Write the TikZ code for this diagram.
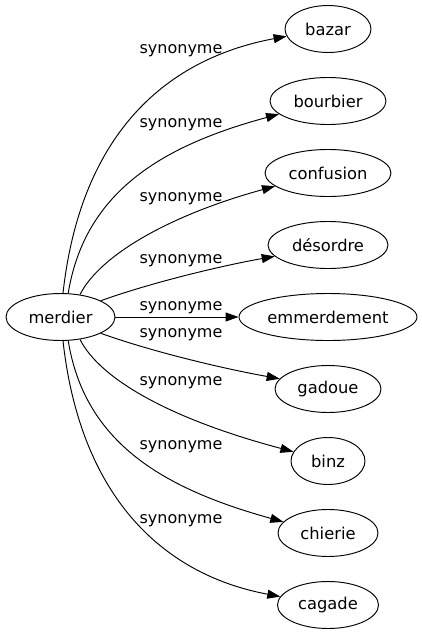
\documentclass[tikz,border=0pt]{standalone}
\usepackage{fontspec}
\setmainfont{DejaVu Sans}
\usetikzlibrary{arrows.meta,shapes.geometric}
\begin{document}
\begin{tikzpicture}[x=1pt,y=-1pt,
  term/.style={ellipse,draw,line width=0.95pt,minimum height=47pt,inner sep=0pt,
    font=\fontsize{16.3pt}{19pt}\selectfont},
  rel/.style={line width=0.95pt,-{Triangle[length=13pt,width=9pt]}},
  lbl/.style={anchor=base,inner sep=0pt,font=\fontsize{16pt}{19pt}\selectfont}]
\useasboundingbox (0,0) rectangle (422,635);
% nodes
\node[term,minimum width=109pt] (merdier) at (60.5,317) {merdier};
\node[term,minimum width=86pt]  (bazar) at (328,29) {bazar};
\node[term,minimum width=116pt] (bourbier) at (328,101) {bourbier};
\node[term,minimum width=126pt] (confusion) at (328,173) {confusion};
\node[term,minimum width=120pt] (desordre) at (328,245) {désordre};
\node[term,minimum width=178pt] (emmerdement) at (328,317) {emmerdement};
\node[term,minimum width=106pt] (gadoue) at (328,389) {gadoue};
\node[term,minimum width=74pt]  (binz) at (328,461) {binz};
\node[term,minimum width=100pt] (chierie) at (328,533) {chierie};
\node[term,minimum width=101pt] (cagade) at (328,605) {cagade};
% edges
\draw[rel] (merdier.84) .. controls (80,140) and (160,60) .. (bazar.190);
\draw[rel] (merdier.72) .. controls (85,190) and (165,145) .. (bourbier.195);
\draw[rel] (merdier.49) .. controls (100,255) and (170,215) .. (confusion.194);
\draw[rel] (merdier.22) .. controls (150,283) and (220,266) .. (desordre.192);
\draw[rel] (merdier.east) -- (emmerdement.west);
\draw[rel] (merdier.338) .. controls (150,351) and (220,368) .. (gadoue.168);
\draw[rel] (merdier.311) .. controls (100,379) and (170,419) .. (binz.165);
\draw[rel] (merdier.288) .. controls (85,444) and (165,489) .. (chierie.166);
\draw[rel] (merdier.276) .. controls (80,494) and (160,574) .. (cagade.170);
% labels
\node[lbl] (l1) at (181,53.7) {synonyme};
\node[lbl] (l2) at (181,127.7) {synonyme};
\node[lbl] (l3) at (181,201) {synonyme};
\node[lbl] (l4) at (181,263) {synonyme};
\node[lbl] (l5) at (181,310.7) {synonyme};
\node[lbl] (l6) at (181,337) {synonyme};
\node[lbl] (l7) at (181,385.4) {synonyme};
\node[lbl] (l8) at (181,449.7) {synonyme};
\node[lbl] (l9) at (181,523) {synonyme};
\end{tikzpicture}
\end{document}
